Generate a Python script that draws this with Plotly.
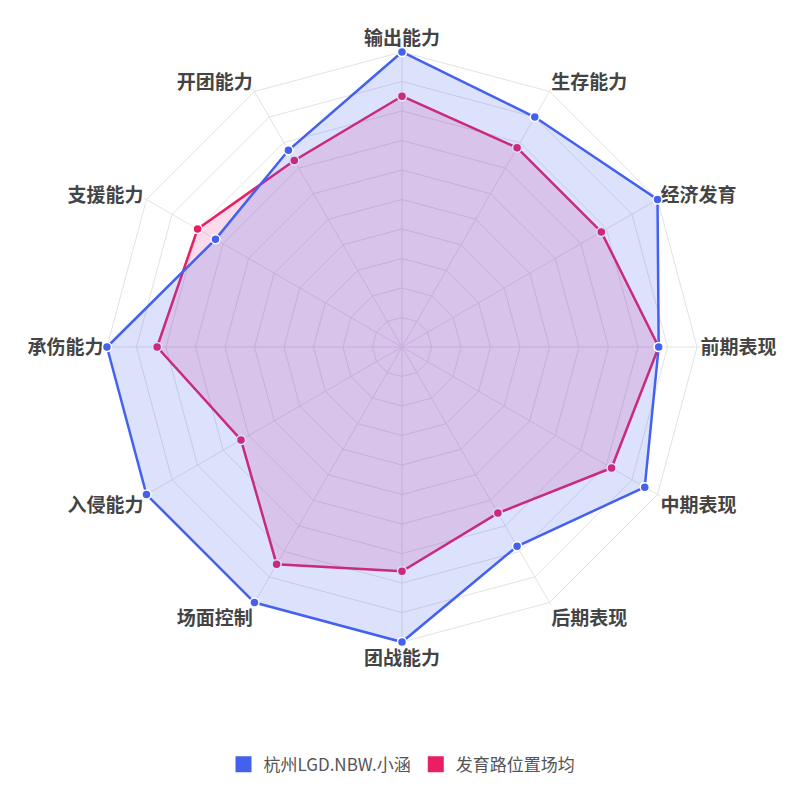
import plotly.graph_objects as go

# ---------------------------------------------------------------------------
# Data (0-100 scale)
# ---------------------------------------------------------------------------
categories = [
    "输出能力", "生存能力", "经济发育", "前期表现", "中期表现", "后期表现",
    "团战能力", "场面控制", "入侵能力", "承伤能力", "支援能力", "开团能力",
]
player_name = "杭州LGD.NBW.小涵"
player_values = [100, 90, 100, 87, 95, 78, 100, 100, 100, 100, 73, 77]
avg_name = "发育路位置场均"
avg_values = [85, 78, 78, 87, 82, 65, 76, 85, 63, 83, 80, 73]

BLUE = "#4361ee"
PINK = "#e91e63"
GRID = "#e3e3e3"
FONT = "Noto Sans CJK SC"

fig = go.Figure()

# average drawn first so the player's fill sits on top (gives the lavender overlap)
series = [
    (avg_name, avg_values, PINK, "rgba(236,72,153,0.2)", 2),
    (player_name, player_values, BLUE, "rgba(67,97,238,0.19)", 1),
]
for name, vals, color, fill, rank in series:
    fig.add_trace(go.Scatterpolar(
        r=vals + vals[:1],
        theta=categories + categories[:1],
        name=name,
        mode="lines+markers",
        fill="toself",
        fillcolor=fill,
        line=dict(color=color, width=2.5),
        marker=dict(size=9, color=color, line=dict(color="white", width=1.5)),
        cliponaxis=False,
        showlegend=False,
    ))
    # square swatch for the legend
    fig.add_trace(go.Scatterpolar(
        r=[None], theta=[categories[0]], name=name, mode="markers",
        marker=dict(symbol="square", size=18, color=color),
        showlegend=True, legendrank=rank,
    ))

fig.update_layout(
    width=800, height=800,
    margin=dict(l=0, r=0, t=0, b=0),
    paper_bgcolor="white",
    font=dict(family=FONT, color="#444"),
    polar=dict(
        # body has an 8px margin, so centre at (394, 339) in figure pixels
        domain=dict(x=[0.12, 0.865], y=[0.20375, 0.94875]),
        bgcolor="white",
        gridshape="linear",
        # range a touch past 100 so lines on the outer ring aren't clipped;
        # the grid ring at 100 acts as the outer border
        radialaxis=dict(
            range=[0, 101], dtick=10, showticklabels=False, ticks="",
            showline=False, gridcolor=GRID, gridwidth=1, layer="below traces",
        ),
        angularaxis=dict(
            direction="clockwise", rotation=90, layer="below traces",
            gridcolor=GRID, showline=False, ticks="",
            tickfont=dict(size=19, color="#444", family=FONT, weight="bold"),
        ),
    ),
    legend=dict(
        orientation="h", x=0.4925, xanchor="center", y=0.054, yanchor="middle",
        font=dict(size=17, color="#555", family=FONT),
        itemsizing="trace",
    ),
)

fig.write_html("out.html")
